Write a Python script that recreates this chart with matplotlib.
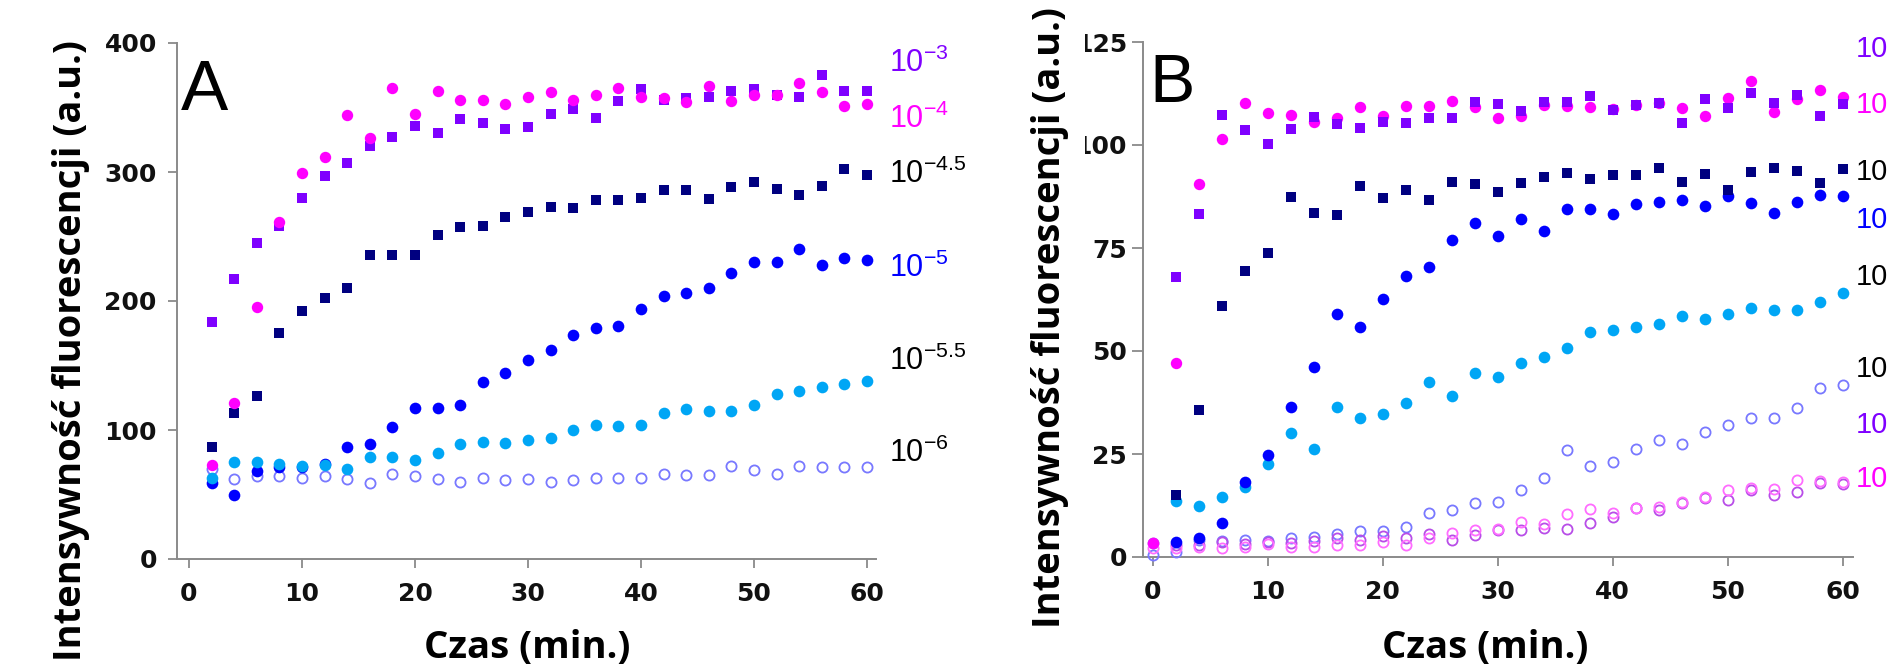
import numpy as np
import matplotlib
matplotlib.use("Agg")
import matplotlib.pyplot as plt
from matplotlib.patches import Rectangle

nan = np.nan
W, H = 1890, 665

# ---------------- data ----------------
time_a = list(range(2, 62, 2))
time_b = list(range(0, 62, 2))

# panel A
a_purple_sq = [184, 217, 245, 258, 280, 297, 307, 320, 327, 336, 330, 341, 338, 333, 335,
               345, 349, 342, 355, 364, 356, 357, 358, 363, 364, 360, 358, 375, 363, 363]
a_magenta_circ = [73, 121, 195, 261, 299, 312, 344, 326, 365, 345, 363, 356, 356, 353, 358,
                  362, 356, 360, 365, 358, 357, 354, 367, 355, 360, 360, 369, 362, 351, 353]
a_navy_sq = [87, 113, 126, 175, 192, 202, 210, 236, 236, 236, 251, 257, 258, 265, 269,
             273, 272, 278, 278, 280, 286, 286, 279, 288, 292, 287, 282, 289, 302, 298]
a_blue_circ = [59, 50, 68, 71, 71, 74, 87, 89, 102, 117, 117, 119, 137, 144, 154,
               162, 174, 179, 181, 194, 204, 206, 210, 222, 230, 230, 240, 228, 233, 232]
a_cyan_circ = [63, 75, 75, 74, 72, 73, 70, 79, 79, 77, 82, 89, 91, 90, 92,
               94, 100, 104, 103, 104, 113, 116, 115, 115, 119, 128, 130, 133, 136, 138]
a_open_lav = [70, 62, 64, 64, 63, 64, 62, 59, 66, 64, 62, 60, 63, 61, 62,
              60, 61, 63, 63, 63, 66, 65, 65, 72, 69, 66, 72, 71, 71, 71]

# panel B
b_purple_sq = [nan, 67.9, 83.3, 107.3, 103.6, 100.2, 104.0, 106.9, 105.1, 104.2, 105.7, 105.4,
               106.5, 106.5, 110.5, 109.9, 108.3, 110.4, 110.4, 111.9, 108.5, 109.7, 110.1,
               105.4, 111.1, 109.1, 112.7, 110.1, 112.1, 107.1, 110.0]
b_magenta_circ = [3.5, 47.2, 90.5, 101.4, 110.3, 107.7, 107.3, 105.7, 106.5, 109.3, 107.0, 109.5,
                  109.5, 110.8, 109.3, 106.5, 107.0, 109.7, 109.5, 109.3, 108.7, 109.7, 110.1,
                  108.9, 107.1, 111.3, 115.5, 108.1, 111.1, 113.3, 111.7]
b_navy_sq = [nan, 15.0, 35.6, 61.0, 69.5, 73.7, 87.3, 83.4, 83.0, 90.0, 87.2, 89.1, 86.7, 90.9,
             90.5, 88.7, 90.7, 92.3, 93.1, 91.7, 92.7, 92.7, 94.3, 91.1, 93.0, 89.1, 93.5,
             94.3, 93.8, 90.8, 94.2]
b_blue_circ = [nan, 3.7, 4.5, 8.3, 18.3, 24.8, 36.4, 46.0, 59.0, 55.8, 62.6, 68.3, 70.3, 76.9,
               81.0, 78.0, 82.0, 79.1, 84.4, 84.5, 83.3, 85.6, 86.2, 86.6, 85.2, 87.6, 86.0,
               83.6, 86.2, 87.9, 87.6]
b_cyan_circ = [nan, 13.5, 12.3, 14.6, 16.9, 22.6, 30.1, 26.3, 36.3, 33.8, 34.6, 37.4, 42.4, 39.1,
               44.6, 43.7, 47.2, 48.5, 50.7, 54.6, 55.1, 55.9, 56.5, 58.4, 57.7, 59.1, 60.4,
               60.0, 60.0, 62.0, 64.0]
b_open_lav = [0.5, 1.3, 4.2, 4.0, 4.2, 4.0, 4.5, 4.8, 5.7, 6.2, 6.4, 7.3, 10.6, 11.4, 13.0, 13.4,
              16.3, 19.1, 26.0, 22.2, 23.0, 26.1, 28.3, 27.5, 30.4, 32.0, 33.7, 33.7, 36.1,
              40.9, 41.7]
b_open_violet = [3.5, 2.8, 3.0, 3.7, 3.2, 3.7, 3.5, 3.8, 4.5, 4.2, 5.0, 4.5, 5.7, 4.1, 5.3, 6.6,
                 6.6, 7.0, 6.7, 8.3, 9.8, 11.8, 11.4, 13.2, 14.2, 13.8, 16.3, 15.1, 15.8,
                 18.0, 17.8]
b_open_pink = [2.1, 2.1, 2.5, 2.1, 2.5, 3.1, 2.5, 2.5, 2.9, 2.9, 3.7, 2.9, 4.5, 5.9, 6.6, 6.7,
               8.6, 8.0, 10.4, 11.6, 10.6, 12.0, 12.2, 13.4, 14.6, 16.3, 16.7, 16.4, 18.7,
               18.5, 18.3]

a_xticks = [0, 10, 20, 30, 40, 50, 60]
a_yticks = [0, 100, 200, 300, 400]
b_xticks = [0, 10, 20, 30, 40, 50, 60]
b_yticks = [0, 25, 50, 75, 100, 125]

a_labels = ["10$^{\\mathregular{-3}}$", "10$^{\\mathregular{-4}}$", "10$^{\\mathregular{-4.5}}$",
            "10$^{\\mathregular{-5}}$", "10$^{\\mathregular{-5.5}}$", "10$^{\\mathregular{-6}}$"]
b_labels = ["10"] * 8

ylabel_text = "Intensywność fluorescencji (a.u.)"
xlabel_text = "Czas (min.)"

# ---------------- style ----------------
PURPLE = "#7f00ff"
MAGENTA = "#ff00ff"
NAVY = "#000080"
BLUE = "#0000ff"
CYAN = "#00a6f5"
LAV = "#7878ff"
VIOLET = "#b84de8"
PINK = "#ff6cff"
AXGRAY = "#8a8a8a"

plt.rcParams["font.family"] = ["Liberation Sans", "DejaVu Sans"]
plt.rcParams["mathtext.fontset"] = "custom"
plt.rcParams["mathtext.rm"] = "Liberation Sans"

fig = plt.figure(figsize=(W / 100, H / 100), dpi=100)
fig.patch.set_facecolor("white")


def px_axes(x0, x1, y_top, y_bot):
    return fig.add_axes([x0 / W, 1 - y_bot / H, (x1 - x0) / W, (y_bot - y_top) / H])


def style_axes(ax, xlim, ylim, xticks, yticks, ypad, ylen):
    ax.set_xlim(*xlim)
    ax.set_ylim(*ylim)
    ax.set_facecolor("none")
    for s in ["top", "right"]:
        ax.spines[s].set_visible(False)
    for s in ["left", "bottom"]:
        ax.spines[s].set_color(AXGRAY)
        ax.spines[s].set_linewidth(1.4)
    ax.spines["left"].set_bounds(ylim[0], yticks[-1])
    ax.set_xticks(xticks)
    ax.set_yticks(yticks)
    ax.tick_params(axis="x", direction="out", length=6.5, width=1.3, color=AXGRAY, pad=10)
    ax.tick_params(axis="y", direction="out", length=ylen, width=1.3, color=AXGRAY, pad=ypad)
    for lab in ax.get_xticklabels() + ax.get_yticklabels():
        lab.set_fontfamily("DejaVu Sans")
        lab.set_fontweight("bold")
        lab.set_fontsize(18)
        lab.set_color("#111111")


def filled(ax, x, y, marker, color, size, z):
    ax.plot(x, y, linestyle="none", marker=marker, markersize=size, color=color,
            markeredgewidth=0, clip_on=False, zorder=z)


def hollow(ax, x, y, color, z):
    ax.plot(x, y, linestyle="none", marker="o", markersize=7.3, markerfacecolor="none",
            markeredgecolor=color, markeredgewidth=1.3, clip_on=False, zorder=z)


# ---------------- panel A ----------------
axA = px_axes(177, 876, 43, 559)
style_axes(axA, (-1.06, 60.8), (0, 400), a_xticks, a_yticks, ypad=8, ylen=6.5)
hollow(axA, time_a, a_open_lav, LAV, 3)
filled(axA, time_a, a_blue_circ, "o", BLUE, 8.4, 4)
filled(axA, time_a, a_cyan_circ, "o", CYAN, 8.4, 5)
filled(axA, time_a, a_navy_sq, "s", NAVY, 7.5, 6)
filled(axA, time_a, a_purple_sq, "s", PURPLE, 7.5, 7)
filled(axA, time_a, a_magenta_circ, "o", MAGENTA, 8.2, 8)

# ---------------- panel B ----------------
axB = px_axes(1143, 1853, 42, 557)
style_axes(axB, (-0.87, 60.9), (0, 125), b_xticks, b_yticks, ypad=3.5, ylen=8)
hollow(axB, time_b, b_open_lav, LAV, 3)
hollow(axB, time_b, b_open_violet, VIOLET, 3)
hollow(axB, time_b, b_open_pink, PINK, 4)
filled(axB, time_b, b_cyan_circ, "o", CYAN, 8.4, 5)
filled(axB, time_b, b_blue_circ, "o", BLUE, 8.4, 6)
filled(axB, time_b, b_navy_sq, "s", NAVY, 7.5, 7)
filled(axB, time_b, b_magenta_circ, "o", MAGENTA, 8.2, 8)
filled(axB, time_b, b_purple_sq, "s", PURPLE, 7.5, 9)


def ftext(x, y, s, **kw):
    return fig.text(x / W, 1 - y / H, s, **kw)


# panel letters
ftext(181, 110, "A", fontsize=51, va="baseline", ha="left", family="Liberation Sans")
ftext(1149, 102, "B", fontsize=49, va="baseline", ha="left", family="Liberation Sans")

# right-hand concentration labels
a_label_y = [72, 128, 183, 277, 370, 462]
a_label_c = [PURPLE, MAGENTA, "black", BLUE, "black", "black"]
for s, yy, c in zip(a_labels, a_label_y, a_label_c):
    ftext(889, yy, s, fontsize=22, color=c, va="baseline", ha="left")

b_label_y = [57, 113, 180, 228, 285, 377, 433, 487]
b_label_c = [PURPLE, MAGENTA, "black", BLUE, "black", "black", PURPLE, MAGENTA]
for s, yy, c in zip(b_labels, b_label_y, b_label_c):
    ftext(1888, yy, s, fontsize=21, color=c, va="baseline", ha="right")

# axis titles (Calibri-like bold)
LABFONT = ["Open Sans", "DejaVu Sans"]
yA = ftext(71, 351, ylabel_text, rotation=90, ha="center", va="center",
           fontsize=30, fontweight="bold", family=LABFONT, zorder=4)
yB = ftext(1050, 318, ylabel_text, rotation=90, ha="center", va="center",
           fontsize=30, fontweight="bold", family=LABFONT, zorder=4)
xA = ftext(527, 658, xlabel_text, ha="center", va="baseline",
           fontsize=30, fontweight="bold", family=LABFONT)
xB = ftext(1485, 658, xlabel_text, ha="center", va="baseline",
           fontsize=30, fontweight="bold", family=LABFONT)

# fit label sizes to the reference extents
fig.canvas.draw()
r = fig.canvas.get_renderer()
for t in (yA, yB):
    h = t.get_window_extent(r).height
    t.set_fontsize(t.get_fontsize() * 620 / h)
for t in (xA, xB):
    w = t.get_window_extent(r).width
    t.set_fontsize(t.get_fontsize() * 206 / w)

# in the reference the B y-label's white box hides most of the leading "1" of 125 / 100
fig.canvas.draw()
cut = None
for lab in axB.get_yticklabels():
    if lab.get_text() in ("125", "100"):
        bb = lab.get_window_extent(r)
        edge = bb.x0 + bb.width / 3 * 0.62
        cut = edge if cut is None else min(cut, edge)
if cut is not None:
    fig.add_artist(Rectangle((1018 / W, 0), (cut - 1018) / W, 1, transform=fig.transFigure,
                             facecolor="white", edgecolor="none", zorder=3))

fig.savefig("out.png", dpi=100, facecolor="white")
